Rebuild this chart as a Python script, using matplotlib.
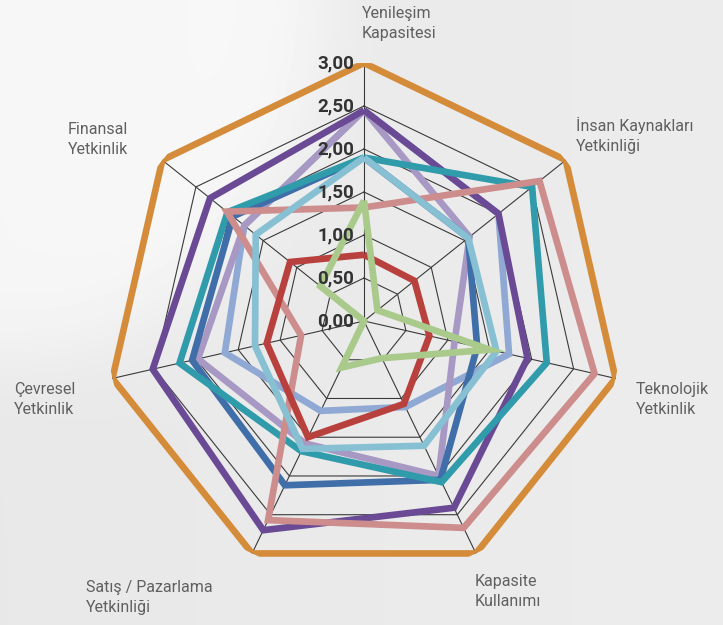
import numpy as np
from matplotlib import pyplot as plt

plt.rcParams['font.family'] = ['Roboto', 'DejaVu Sans']

# axes (clockwise from top)
categories = ["Yenileşim\nKapasitesi", "İnsan Kaynakları\nYetkinliği", "Teknolojik\nYetkinlik",
              "Kapasite\nKullanımı", "Satış / Pazarlama\nYetkinliği", "Çevresel\nYetkinlik",
              "Finansal\nYetkinlik"]
tick_values = [0.0, 0.5, 1.0, 1.5, 2.0, 2.5, 3.0]
tick_labels = ["0,00", "0,50", "1,00", "1,50", "2,00", "2,50", "3,00"]

# series values, same order as categories
orange = [3.0, 3.0, 3.0, 3.0, 3.0, 3.0, 3.0]
purple = [2.45, 2.0, 1.95, 2.41, 2.7, 2.52, 2.29]
teal = [1.9, 2.5, 2.18, 2.08, 1.68, 2.2, 2.03]
steel = [1.9, 1.55, 1.35, 2.05, 2.12, 2.05, 1.95]
lavender = [2.45, 1.57, 1.08, 2.0, 1.58, 1.98, 1.78]
periwinkle = [2.45, 2.0, 1.73, 1.11, 1.16, 1.66, 1.78]
pink = [1.32, 2.61, 2.75, 2.67, 2.57, 0.75, 2.04]
red = [0.77, 0.75, 0.78, 1.07, 1.5, 1.16, 1.1]
lightblue = [1.9, 1.55, 1.58, 1.61, 1.65, 1.3, 1.61]
green = [1.4, 0.2, 1.5, 0.48, 0.6, 0.0, 0.65]

# drawing order: first ones end up underneath
series = [(orange, '#d48c3a'), (periwinkle, '#8fa9d4'), (lavender, '#a798c4'),
          (purple, '#6a4a94'), (steel, '#3f6ea9'), (teal, '#2f9bab'),
          (pink, '#cc8d8c'), (red, '#b8413e'), (lightblue, '#86c0d2'), (green, '#a9ca8a')]

W, H = 723, 625
fig = plt.figure(figsize=(W / 100, H / 100), dpi=100)

# soft grey background with a light swoosh in the top-left corner
bg = fig.add_axes([0, 0, 1, 1])
yy, xx = np.mgrid[0:H, 0:W]
d = np.hypot(xx / 1.0, yy / 1.1)
val = 0.91 + 0.055 / (1 + np.exp((d - 320) / 22)) + 0.015 * (xx / W)
bg.imshow(val, cmap='gray', vmin=0, vmax=1, aspect='auto', extent=[0, W, H, 0])
bg.axis('off')

# radar axes, centre at about (364, 321) px, 3.0 -> 258 px
cx, cy, R = 364, 321, 258
ax = fig.add_axes([(cx - R) / W, (H - cy - R) / H, 2 * R / W, 2 * R / H], projection='polar')
ax.patch.set_alpha(0)
ax.set_theta_zero_location('N')
ax.set_theta_direction(-1)
ax.set_ylim(0, 3)
ax.grid(False)
ax.spines['polar'].set_visible(False)
ax.set_xticks([])
ax.set_yticks([])

n = len(categories)
theta = np.arange(n) * 2 * np.pi / n
theta_c = np.append(theta, theta[0])

# heptagon grid
for v in tick_values[1:]:
    ax.plot(theta_c, [v] * (n + 1), color='#3a3a3a', lw=0.8, zorder=1)
for t in theta:
    ax.plot([t, t], [0, 3.0], color='#3a3a3a', lw=0.8, zorder=1)

for vals, col in series:
    ax.plot(theta_c, vals + vals[:1], color=col, lw=4.8, solid_joinstyle='miter',
            solid_capstyle='butt', zorder=3)

for v, lab in zip(tick_values, tick_labels):
    ax.annotate(lab, xy=(0, v), xytext=(-7, 0), textcoords='offset points',
                ha='right', va='center', fontsize=13.5, fontweight='bold', color='#333333',
                zorder=5)

# category labels (left edge, top of block) in pixels
label_pos = [(362, 6), (576, 117), (636, 382), (475, 574), (86, 580), (14, 382), (68, 122)]
for lab, (px, py) in zip(categories, label_pos):
    fig.text(px / W, 1 - py / H, lab, ha='left', va='top', fontsize=11.5,
             color='#606060', linespacing=1.45)

fig.savefig('out.png', dpi=100)
